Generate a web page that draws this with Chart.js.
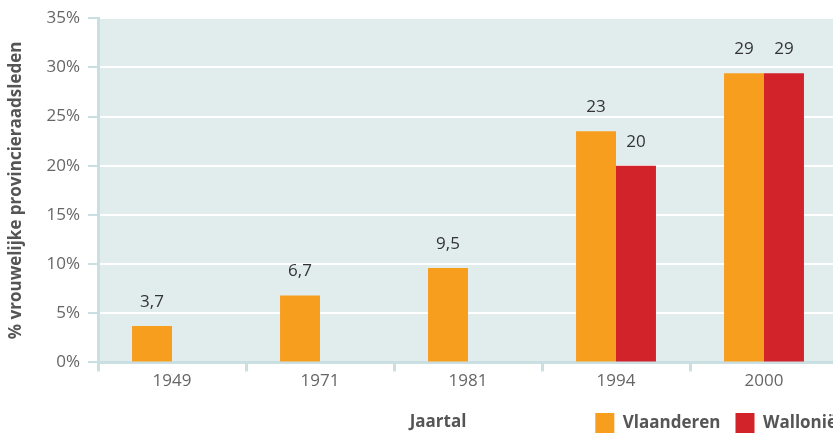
<!DOCTYPE html>
<html>
<head>
<meta charset="utf-8">
<script src="https://cdn.jsdelivr.net/npm/chart.js@4"></script>
<style>
  html, body { margin: 0; padding: 0; overflow: hidden; background: #fff; }
  #wrap { width: 860px; height: 443px; }
</style>
</head>
<body>
<div id="wrap"><canvas id="provChart"></canvas></div>
<script>
// data
var years = ['1949', '1971', '1981', '1994', '2000'];
var vlaanderen = [3.7, 6.8, 9.6, 23.5, 29.4];
var wallonie = [null, null, null, 20, 29.4];
var vlaanderenLabels = ['3,7', '6,7', '9,5', '23', '29'];
var wallonieLabels = [null, null, null, '20', '29'];
var yTicks = [0, 5, 10, 15, 20, 25, 30, 35];

var FONT = 'Open Sans';
var axisBlue = '#c9dfe2';

// light plot background, legend nudged right so it runs off the edge
var plotBg = {
	id: 'plotBg',
	afterLayout: function(chart) {
		chart.legend.left += 14;
		chart.legend.right += 14;
	},
	beforeDraw: function(chart) {
		var a = chart.chartArea, ctx = chart.ctx;
		ctx.save();
		ctx.fillStyle = '#e1eced';
		ctx.fillRect(a.left, a.top, a.right - a.left, a.bottom - a.top);
		ctx.restore();
	}
};

// value labels above bars + "Jaartal"
var barLabels = {
	id: 'barLabels',
	afterDatasetsDraw: function(chart) {
		var ctx = chart.ctx;
		var texts = [vlaanderenLabels, wallonieLabels];
		ctx.save();
		ctx.font = '17px ' + FONT;
		ctx.fillStyle = '#333';
		ctx.textAlign = 'center';
		ctx.textBaseline = 'middle';
		chart.data.datasets.forEach(function(ds, i) {
			chart.getDatasetMeta(i).data.forEach(function(el, j) {
				if (texts[i][j] == null) return;
				ctx.fillText(texts[i][j], el.x, el.y - 24);
			});
		});
		ctx.font = 'bold 17px ' + FONT;
		ctx.fillStyle = '#555';
		ctx.fillText('Jaartal', 438, 422);
		ctx.restore();
	}
};

var ctx = document.getElementById('provChart').getContext('2d');
var myChart = new Chart(ctx, {
	type: 'bar',
	data: {
		labels: years,
		datasets: [
			{
				label: 'Vlaanderen',
				data: vlaanderen,
				backgroundColor: '#f79e1e',
				borderWidth: 0,
				categoryPercentage: 0.54,
				barPercentage: 1
			},
			{
				label: 'Wallonië',
				data: wallonie,
				backgroundColor: '#d2232a',
				borderWidth: 0,
				categoryPercentage: 0.54,
				barPercentage: 1
			}
		]
	},
	options: {
		responsive: true,
		maintainAspectRatio: false,
		animation: false,
		layout: {
			padding: { left: 0, right: 22, top: 0, bottom: 0 }
		},
		scales: {
			x: {
				grid: {
					drawOnChartArea: false,
					color: axisBlue,
					lineWidth: 3,
					tickLength: 9
				},
				border: { color: axisBlue, width: 3 },
				ticks: {
					color: '#666',
					font: { family: FONT, size: 17 },
					padding: 0
				},
				afterFit: function(scale) { scale.height = 35.6; }
			},
			y: {
				min: 0,
				max: 35,
				afterBuildTicks: function(scale) {
					scale.ticks = yTicks.map(function(v) { return { value: v }; });
				},
				grid: {
					color: '#fff',
					lineWidth: 2,
					tickColor: axisBlue,
					tickLength: 10
				},
				border: { color: axisBlue, width: 3 },
				ticks: {
					color: '#666',
					font: { family: FONT, size: 17 },
					padding: 8,
					callback: function(value) { return value + '%'; }
				},
				title: {
					display: true,
					text: '% vrouwelijke provincieraadsleden',
					color: '#555',
					font: { family: FONT, size: 17, weight: 'bold' },
					padding: { top: 6, bottom: 0 }
				},
				afterFit: function(scale) { scale.width = 98; }
			}
		},
		plugins: {
			legend: {
				position: 'bottom',
				align: 'end',
				labels: {
					boxWidth: 19,
					boxHeight: 20,
					padding: 15,
					color: '#555',
					font: { family: FONT, size: 17, weight: 'bold' }
				}
			},
			tooltip: { enabled: false }
		}
	},
	plugins: [plotBg, barLabels]
});
</script>
</body>
</html>
